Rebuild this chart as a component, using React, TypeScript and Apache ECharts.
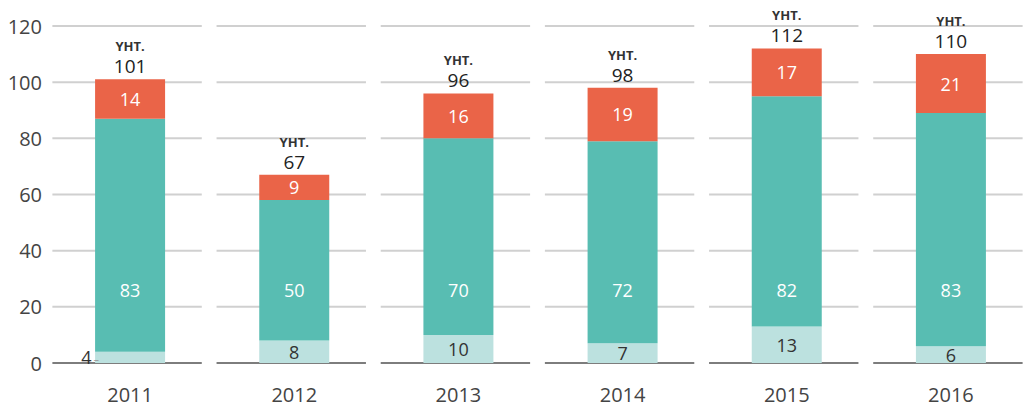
import React, { useEffect, useRef } from "react";
import * as echarts from "echarts";

const years = ["2011", "2012", "2013", "2014", "2015", "2016"];
const baseValues = [4, 8, 10, 7, 13, 6];
const midValues = [83, 50, 70, 72, 82, 83];
const topValues = [14, 9, 16, 19, 17, 21];
const gridTicks = [0, 20, 40, 60, 80, 100, 120];
const totalPrefix = "YHT.";
// vertical level (in axis units) where the middle-segment labels are drawn
const midLabelLevel = 26;

const FONT = "'Open Sans', 'Noto Sans', sans-serif";

export default function App() {
  const ref = useRef<HTMLDivElement>(null);
  useEffect(() => {
    if (!ref.current) return;
    const chart = echarts.init(ref.current, undefined, { renderer: "svg" });
    const totals = years.map((_, i) => baseValues[i] + midValues[i] + topValues[i]);
    const gridData: number[][] = [];
    years.forEach((_, i) => gridTicks.forEach((v) => gridData.push([i, v])));

    chart.setOption({
      animation: false,
      textStyle: { fontFamily: FONT },
      grid: { left: 48, top: 26, width: 992, height: 337 },
      xAxis: {
        type: "category",
        data: years,
        axisLine: { show: false },
        axisTick: { show: false },
        axisLabel: { color: "#444", fontSize: 20, margin: 21, fontFamily: FONT },
        splitLine: { show: false },
      },
      yAxis: {
        type: "value",
        min: 0,
        max: 120,
        interval: 20,
        axisLine: { show: false },
        axisTick: { show: false },
        splitLine: { show: false },
        axisLabel: { color: "#444", fontSize: 20, margin: 6, fontFamily: FONT },
      },
      series: [
        {
          type: "custom",
          silent: true,
          z: 0,
          data: gridData,
          encode: { x: 0, y: 1 },
          renderItem: (params: any, api: any) => {
            const c = api.coord([api.value(0), api.value(1)]);
            const band = api.size([1, 0])[0];
            const half = band * 0.455;
            const isZero = api.value(1) === 0;
            return {
              type: "line",
              shape: { x1: c[0] - half - 3, y1: c[1], x2: c[0] + half - 3, y2: c[1] },
              style: { stroke: isZero ? "#7d7d7d" : "#d0d0d0", lineWidth: 2 },
            };
          },
        },
        {
          type: "bar",
          stack: "total",
          barWidth: 70,
          z: 2,
          itemStyle: { color: "#bce1df" },
          label: { show: true, position: "inside", color: "#333", fontSize: 18, fontFamily: FONT },
          data: baseValues.map((v, i) =>
            i === 0
              ? {
                  value: v,
                  label: {
                    position: "left",
                    distance: -4,
                    formatter: "{v|{c}}{d|–}",
                    rich: {
                      v: { color: "#333", fontSize: 18, fontFamily: FONT },
                      d: { color: "#999", fontSize: 11, padding: [2, 0, 0, 2] },
                    },
                  },
                }
              : v
          ),
        },
        {
          type: "bar",
          stack: "total",
          barWidth: 70,
          z: 2,
          itemStyle: { color: "#58bdb2" },
          label: { show: false },
          data: midValues,
        },
        {
          type: "bar",
          stack: "total",
          barWidth: 70,
          z: 2,
          itemStyle: { color: "#ea6448" },
          label: { show: true, position: "inside", color: "#ffffff", fontSize: 18, fontFamily: FONT },
          data: topValues,
        },
        {
          type: "scatter",
          symbolSize: 0,
          z: 5,
          silent: true,
          itemStyle: { opacity: 1 },
          data: midValues.map((v, i) => [i, midLabelLevel]),
          label: {
            show: true,
            position: "inside",
            color: "#ffffff",
            fontSize: 18,
            fontFamily: FONT,
            formatter: (p: any) => String(midValues[p.dataIndex]),
          },
        },
        {
          type: "scatter",
          symbolSize: 0,
          z: 5,
          silent: true,
          itemStyle: { opacity: 1 },
          data: totals,
          label: {
            show: true,
            position: "top",
            distance: 2,
            formatter: "{a|" + totalPrefix + "}\n{b|{c}}",
            rich: {
              a: { fontSize: 13, fontWeight: "bold", color: "#333", lineHeight: 18, align: "center", fontFamily: FONT },
              b: { fontSize: 19, color: "#222", lineHeight: 22, align: "center", fontFamily: FONT },
            },
          },
        },
      ],
    });
    return () => chart.dispose();
  }, []);
  return (
    <div
      ref={ref}
      style={{ position: "fixed", left: 0, top: 0, width: 1033, height: 415, background: "#fff" }}
    />
  );
}
